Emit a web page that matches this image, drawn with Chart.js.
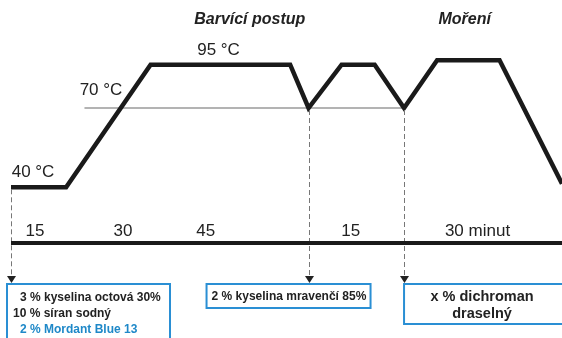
<!DOCTYPE html>
<html>
<head>
<meta charset="utf-8">
<script src="https://cdn.jsdelivr.net/npm/chart.js@4.4.1/dist/chart.umd.min.js"></script>
<style>
  html, body { margin: 0; padding: 0; background: #fff; }
</style>
</head>
<body>
<canvas id="processChart" width="562" height="338"></canvas>
<script>
// Teplotní průběh (schematický čas v minutách, teplota v °C)
const timeMin = [0, 15, 38, 76, 81, 90, 99, 107, 116, 133, 150];
const tempC = [40, 40, 95, 95, 70, 95, 95, 70, 98, 98, 41];

// Šedá vodorovná čára 70 °C
const refTime = [20, 107];
const refTemp = [70, 70];

// Popisky teplot
const tempLabels = ["40 °C", "70 °C", "95 °C"];
const tempLabelTime = [6, 24.5, 56.5];
const tempLabelTemp = [40, 70, 95];

// Popisky časové osy
const timeLabels = ["15", "30", "45", "15", "30 minut"];
const timeLabelAt = [6.5, 30.5, 53, 92.5, 127];

// Názvy fází
const phaseTitles = ["Barvící postup", "Moření"];
const phaseTitleAt = [65, 123.5];

// Přídavky chemikálií (index bodu v průběhu, kde se přidává)
const noteIndex = [0, 4, 7];
const noteLines = [
  ["3 % kyselina octová 30%", "10 % síran sodný", "2 % Mordant Blue 13"],
  ["2 % kyselina mravenčí 85%"],
  ["x % dichroman", "draselný"]
];

const FONT = '"Liberation Sans", Arial, sans-serif';
const BLUE = "#2a8fd4";

// Plugin pro popisky, časovou osu a rámečky
const diagramPlugin = {
  id: "diagram",
  afterDatasetsDraw(chart) {
    const { ctx, chartArea, scales } = chart;
    const xs = scales.x, ys = scales.y;
    const axisY = chartArea.bottom;
    const boxTop = axisY + 41;

    ctx.save();

    // svislé čárkované šipky
    noteIndex.forEach(i => {
      const x = Math.round(xs.getPixelForValue(timeMin[i])) + 0.5;
      const y0 = ys.getPixelForValue(tempC[i]) + 2;
      ctx.strokeStyle = "#777";
      ctx.lineWidth = 1;
      ctx.setLineDash([5, 3]);
      ctx.beginPath();
      ctx.moveTo(x, y0);
      ctx.lineTo(x, boxTop - 7);
      ctx.stroke();
      ctx.setLineDash([]);
      ctx.fillStyle = "#222";
      ctx.beginPath();
      ctx.moveTo(x - 4.5, boxTop - 8);
      ctx.lineTo(x + 4.5, boxTop - 8);
      ctx.lineTo(x, boxTop - 1);
      ctx.closePath();
      ctx.fill();
    });

    // časová osa
    ctx.strokeStyle = "#1a1a1a";
    ctx.lineWidth = 4;
    ctx.beginPath();
    ctx.moveTo(chartArea.left, axisY);
    ctx.lineTo(chartArea.right, axisY);
    ctx.stroke();

    ctx.fillStyle = "#222";
    ctx.textBaseline = "alphabetic";
    ctx.textAlign = "center";
    ctx.font = "17px " + FONT;
    timeLabels.forEach((t, i) => {
      ctx.fillText(t, xs.getPixelForValue(timeLabelAt[i]), axisY - 7);
    });

    // popisky teplot
    tempLabels.forEach((t, i) => {
      const y = ys.getPixelForValue(tempLabelTemp[i]);
      ctx.fillText(t, xs.getPixelForValue(tempLabelTime[i]), y - (i === 1 ? 13 : 10));
    });

    // názvy fází
    ctx.font = "italic bold 16px " + FONT;
    phaseTitles.forEach((t, i) => {
      ctx.fillText(t, xs.getPixelForValue(phaseTitleAt[i]), 24);
    });

    // rámečky
    ctx.lineWidth = 2;
    ctx.strokeStyle = BLUE;
    const x1 = xs.getPixelForValue(timeMin[noteIndex[0]]);
    const x2 = xs.getPixelForValue(timeMin[noteIndex[1]]);
    const x3 = xs.getPixelForValue(timeMin[noteIndex[2]]);

    ctx.strokeRect(x1 - 4, boxTop, 163, 70);
    ctx.strokeRect(x2 - 102, boxTop, 164, 24);
    ctx.strokeRect(x3, boxTop, 170, 40);

    ctx.textAlign = "left";
    ctx.font = "bold 12px " + FONT;
    const indents = [9, 2, 9];
    noteLines[0].forEach((line, k) => {
      ctx.fillStyle = k === 2 ? "#1e88c8" : "#222";
      ctx.fillText(line, x1 + indents[k], boxTop + 17 + k * 16);
    });

    ctx.fillStyle = "#222";
    ctx.fillText(noteLines[1][0], x2 - 97, boxTop + 16);

    ctx.textAlign = "center";
    ctx.font = "bold 14.5px " + FONT;
    noteLines[2].forEach((line, k) => {
      ctx.fillText(line, x3 + 78, boxTop + 17 + k * 17);
    });

    ctx.restore();
  }
};

new Chart(document.getElementById("processChart"), {
  type: "line",
  data: {
    datasets: [
      {
        label: "Teplota",
        data: timeMin.map((t, i) => ({ x: t, y: tempC[i] })),
        borderColor: "#1a1a1a",
        borderWidth: 4.5,
        borderJoinStyle: "miter",
        pointRadius: 0,
        tension: 0,
        order: 1
      },
      {
        label: "70 °C",
        data: refTime.map((t, i) => ({ x: t, y: refTemp[i] })),
        borderColor: "#9a9a9a",
        borderWidth: 1.5,
        pointRadius: 0,
        order: 2
      }
    ]
  },
  options: {
    responsive: false,
    animation: false,
    layout: { padding: { left: 11, right: 0, top: 0, bottom: 95 } },
    scales: {
      x: { type: "linear", min: 0, max: 150, display: false },
      y: { type: "logarithmic", min: 27, max: 150, display: false }
    },
    plugins: {
      legend: { display: false },
      tooltip: { enabled: false }
    }
  },
  plugins: [diagramPlugin]
});
</script>
</body>
</html>
